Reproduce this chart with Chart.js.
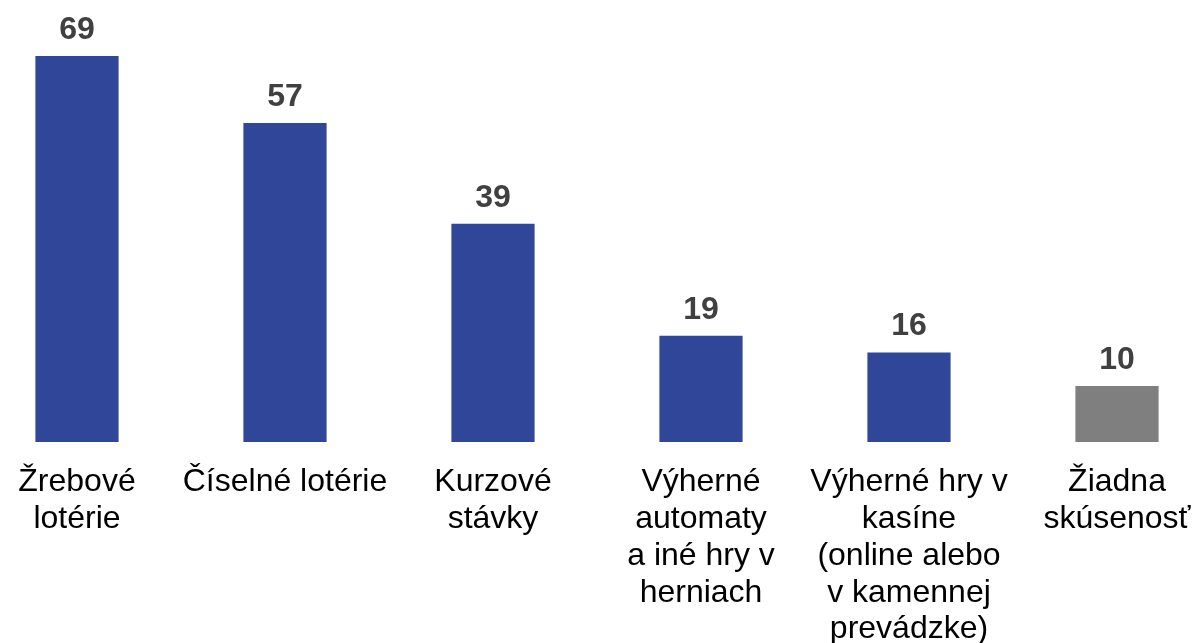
<!DOCTYPE html>
<html>
<head>
<meta charset="utf-8">
<script src="https://cdn.jsdelivr.net/npm/chart.js@4"></script>
<style>
  html, body { margin: 0; padding: 0; background: #fff; }
  #wrap { width: 1197px; height: 643px; position: relative; }
</style>
</head>
<body>
<div id="wrap"><canvas id="chart"></canvas></div>
<script>
const categories = [
    ["Žrebové", "lotérie"],
    ["Číselné lotérie"],
    ["Kurzové", "stávky"],
    ["Výherné", "automaty", "a iné hry v", "herniach"],
    ["Výherné hry v", "kasíne", "(online alebo", "v kamennej", "prevádzke)"],
    ["Žiadna", "skúsenosť"]
];
const values = [69, 57, 39, 19, 16, 10];
const barColors = ["#2F4699", "#2F4699", "#2F4699", "#2F4699", "#2F4699", "#7F7F7F"];

const fontFamily = "'Liberation Sans', Arial, sans-serif";

// numbers above bars
const valueLabels = {
    id: "valueLabels",
    afterDatasetsDraw(chart) {
        const ctx = chart.ctx;
        const meta = chart.getDatasetMeta(0);
        ctx.save();
        ctx.font = "bold 32px " + fontFamily;
        ctx.fillStyle = "#404040";
        ctx.textAlign = "center";
        ctx.textBaseline = "alphabetic";
        meta.data.forEach((bar, i) => {
            ctx.fillText(values[i], bar.x, bar.y - 17);
        });
        ctx.restore();
    }
};

new Chart(document.getElementById("chart"), {
    type: "bar",
    data: {
        labels: categories,
        datasets: [{
            data: values,
            backgroundColor: barColors,
            barPercentage: 1,
            categoryPercentage: 0.4,
            clip: false
        }]
    },
    options: {
        responsive: true,
        maintainAspectRatio: false,
        animation: false,
        layout: {
            padding: { left: 77, right: 80, top: 0, bottom: 0 }
        },
        scales: {
            x: {
                offset: false,
                grid: { display: false, drawTicks: false },
                border: { display: false },
                ticks: {
                    color: "#000",
                    padding: 22,
                    maxRotation: 0,
                    autoSkip: false,
                    font: { family: fontFamily, size: 32, lineHeight: 1.15 }
                },
                afterFit(scale) {
                    scale.height = 201;
                    scale.paddingLeft = 0;
                    scale.paddingRight = 0;
                }
            },
            y: {
                display: false,
                min: 0,
                max: 79
            }
        },
        plugins: {
            legend: { display: false },
            tooltip: { enabled: false }
        }
    },
    plugins: [valueLabels]
});
</script>
</body>
</html>
